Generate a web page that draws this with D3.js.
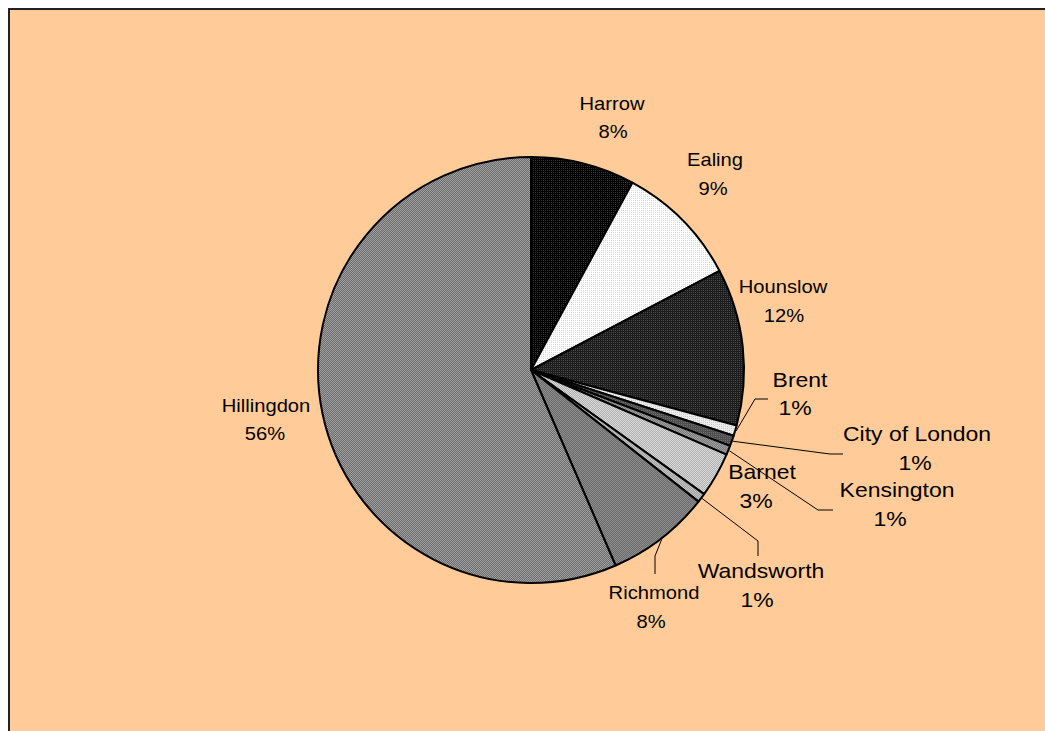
<!DOCTYPE html>
<html><head><meta charset="utf-8">
<script src="https://cdn.jsdelivr.net/npm/d3@7"></script>
<style>html,body{margin:0;padding:0;background:#fff;overflow:hidden}</style>
</head><body>
<svg id="chart" width="1045" height="731"></svg>
<script>
// ---- data ----
const categories = ["Harrow","Ealing","Hounslow","Brent","City of London","Kensington","Barnet","Wandsworth","Richmond","Hillingdon"];
const values = [7.9, 9.4, 11.9, 0.8, 0.8, 0.7, 3.4, 0.7, 7.9, 56.5];
const pctLabels = ["8%","9%","12%","1%","1%","1%","3%","1%","8%","56%"];

// ---- styles / layout ----
const fills = [
  {base:"#000000", dot:"#333333", type:"dot"},
  {base:"#ffffff", dot:"#d8d8d8", type:"dot"},
  {base:"#1c1c1c", dot:"#4a4a4a", type:"dot"},
  {base:"#ededed", dot:"#c8c8c8", type:"dot"},
  {base:"#4e4e4e", dot:"#707070", type:"dot"},
  {base:"#a0a0a0", dot:"#7a7a7a", type:"check"},
  {base:"#dadada", dot:"#b0b0b0", type:"check"},
  {base:"#c4c4c4", dot:"#a0a0a0", type:"check"},
  {base:"#8c8c8c", dot:"#6c6c6c", type:"check"},
  {base:"#a2a2a2", dot:"#6a6a6a", type:"check"}
];
// label layout: [nameX, nameY, pctX, pctY, big?, leader elbow/end or null]
const labelLayout = [
  [612,110,613,138,false,null],
  [715,166,713,195,false,null],
  [783,293,784,322,false,null],
  [800,387,795,415,true,[[755,399],[768,399]]],
  [917,441,915,470,true,[[830,454],[843,454]]],
  [897,497,890,526,true,[[818,510],[833,510]]],
  [762,479,756,508,true,null],
  [761,578,757,607,true,[[758,541],[758,556]]],
  [654,599,651,628,false,[[655,556],[655,574]]],
  [266,412,265,440,false,null]
];
const cx = 531, cy = 370, R = 213;

const svg = d3.select("#chart");
const defs = svg.append("defs");
fills.forEach((f,i)=>{
  const p = defs.append("pattern").attr("id","p"+i).attr("patternUnits","userSpaceOnUse")
    .attr("width",2).attr("height",2);
  p.append("rect").attr("width",2).attr("height",2).attr("fill",f.base).attr("shape-rendering","crispEdges");
  if(f.type==="dot"){
    p.append("rect").attr("x",0).attr("y",0).attr("width",1).attr("height",1).attr("fill",f.dot).attr("shape-rendering","crispEdges");
  } else {
    p.append("rect").attr("x",0).attr("y",0).attr("width",1).attr("height",1).attr("fill",f.dot).attr("shape-rendering","crispEdges");
    p.append("rect").attr("x",1).attr("y",1).attr("width",1).attr("height",1).attr("fill",f.dot).attr("shape-rendering","crispEdges");
  }
});

// background frame
svg.append("rect").attr("x",9).attr("y",9).attr("width",1100).attr("height",800)
  .attr("fill","#ffcc99").attr("stroke","#222").attr("stroke-width",2);

const pie = d3.pie().sort(null).value(d=>d)(values);
const arc = d3.arc().innerRadius(0).outerRadius(R);
const g = svg.append("g").attr("transform",`translate(${cx},${cy})`);

g.selectAll("path.slice").data(pie).join("path").attr("class","slice")
  .attr("d",arc).attr("fill",(d,i)=>`url(#p${i})`)
  .attr("stroke","#000").attr("stroke-width",2).attr("stroke-linejoin","round");

// leader lines
const edgePt = d => { const a=(d.startAngle+d.endAngle)/2; return [cx+(R+1)*Math.sin(a), cy-(R+1)*Math.cos(a)]; };
pie.forEach((d,i)=>{
  const L = labelLayout[i][5];
  if(!L) return;
  const pts = [edgePt(d), ...L];
  svg.append("path").attr("d",d3.line()(pts)).attr("fill","none").attr("stroke","#000").attr("stroke-width",1);
});

// labels
categories.forEach((c,i)=>{
  const [nx,ny,px,py,big] = labelLayout[i];
  const fs = big ? 20.5 : 17.7;
  const sx = big ? 1.12 : 1.14;
  [[c,nx,ny],[pctLabels[i],px,py]].forEach(([t,x,y])=>{
    svg.append("text").attr("transform",`translate(${x},${y}) scale(${sx},1)`)
      .attr("text-anchor","middle").attr("font-family","'Liberation Sans', Arial, sans-serif")
      .attr("font-size",fs).attr("fill","#000").text(t);
  });
});
</script>
</body></html>
